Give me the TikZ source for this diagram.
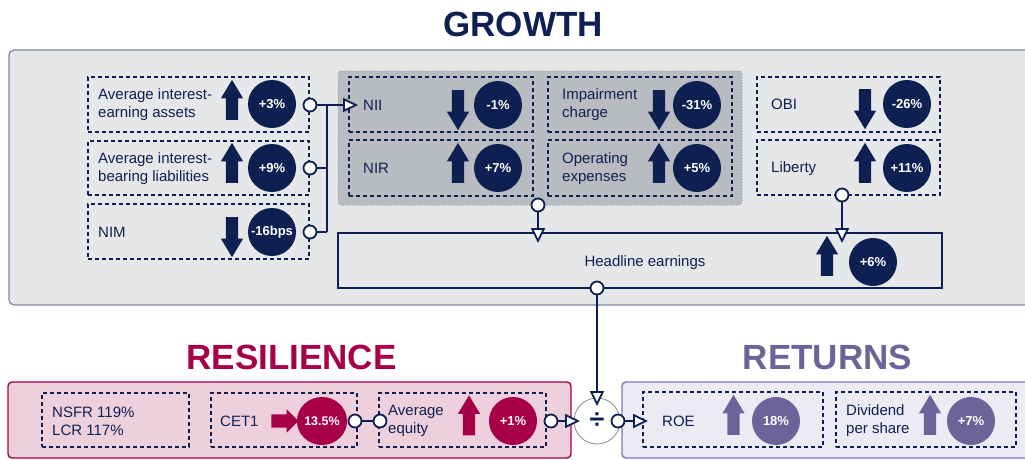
\documentclass[tikz,border=0pt]{standalone}
\usepackage{fontspec}
\setmainfont{Liberation Sans}
\usetikzlibrary{shapes.arrows,shapes.geometric,arrows.meta}
\definecolor{navy}{HTML}{0E2052}
\definecolor{crim}{HTML}{A70048}
\definecolor{purp}{HTML}{6C6499}
\definecolor{gbg}{HTML}{E6E7E9}
\definecolor{gborder}{HTML}{7A86A0}
\definecolor{grpfill}{HTML}{B8BCC1}
\definecolor{grpline}{HTML}{9DA2A8}
\definecolor{resbg}{HTML}{EED0DC}
\definecolor{resline}{HTML}{A8004B}
\definecolor{retbg}{HTML}{ECEBF3}
\definecolor{retline}{HTML}{7D74C8}
\definecolor{divline}{HTML}{8C8C8C}
\begin{document}
\begin{tikzpicture}[x=1pt,y=-1pt,
  dbox/.style={rectangle, draw=navy, dash pattern=on 4pt off 3pt, line width=1.2pt, inner sep=0pt},
  lbl/.style={anchor=west, text=navy, font=\fontsize{15}{18}\selectfont, align=left, inner sep=0pt},
  val/.style={circle, fill=navy, text=white, font=\bfseries\fontsize{13}{15}\selectfont, minimum size=48pt, inner sep=0pt},
  uparr/.style={single arrow, shape border rotate=90, fill=navy, minimum height=40pt, minimum width=22pt, single arrow head extend=5pt, single arrow tip angle=62, inner sep=6pt},
  dnarr/.style={uparr, shape border rotate=270},
  dotc/.style={circle, draw=navy, fill=white, line width=1.8pt, minimum size=13pt, inner sep=0pt},
  conn/.style={draw=navy, line width=1.3pt},
  tri/.style={-{Triangle[length=15pt, width=14pt, line width=1.8pt, fill=white]}},
  title/.style={font=\bfseries\fontsize{35}{40}\selectfont, inner sep=0pt}
]
\useasboundingbox (0,0) rectangle (1025,459);

% ---------------- GROWTH ----------------
\node[title, text=navy] (tgrowth) at (523,24) {GROWTH};
\draw[fill=gbg, draw=gborder, line width=1.2pt, rounded corners=5pt] (9,50) rectangle (1045,305);

% left column
\node[dbox, minimum width=221pt, minimum height=55pt] (b1) at (198.5,104.5) {};
\node[dbox, minimum width=221pt, minimum height=54pt] (b2) at (198.5,168) {};
\node[dbox, minimum width=221pt, minimum height=55pt] (b3) at (198.5,231.5) {};
\node[lbl] (l1) at (98,105) {Average interest-\\earning assets};
\node[lbl] (l2) at (98,168.5) {Average interest-\\bearing liabilities};
\node[lbl] (l3) at (98,232) {NIM};
\node[uparr] (a1) at (232,105) {};
\node[uparr] (a2) at (232,168) {};
\node[dnarr] (a3) at (232,232) {};
\node[val] (v1) at (272,104) {+3\%};
\node[val] (v2) at (272,168) {+9\%};
\node[val] (v3) at (272,232) {-16bps};

% grey group
\node[rectangle, fill=grpfill, draw=grpline, dotted, line width=1pt, rounded corners=3pt, minimum width=404pt, minimum height=134pt, inner sep=0pt] (grp) at (540,138) {};
\node[dbox, minimum width=184pt, minimum height=55pt] (bnii) at (441,104.5) {};
\node[dbox, minimum width=184pt, minimum height=56pt] (bnir) at (441,168) {};
\node[dbox, minimum width=184pt, minimum height=55pt] (bimp) at (640,104.5) {};
\node[dbox, minimum width=184pt, minimum height=56pt] (bope) at (640,168) {};
\node[lbl] (lnii) at (363,105) {NII};
\node[lbl] (lnir) at (363,168.5) {NIR};
\node[lbl] (limp) at (562,105) {Impairment\\charge};
\node[lbl] (lope) at (562,168.5) {Operating\\expenses};
\node[dnarr] (anii) at (458,105) {};
\node[uparr] (anir) at (458,168) {};
\node[dnarr] (aimp) at (659,105) {};
\node[uparr] (aope) at (659,168) {};
\node[val] (vnii) at (498,105) {-1\%};
\node[val] (vnir) at (498,168) {+7\%};
\node[val] (vimp) at (697,105) {-31\%};
\node[val] (vope) at (697,168) {+5\%};

% right column
\node[dbox, minimum width=183pt, minimum height=55pt] (bobi) at (848.5,104.5) {};
\node[dbox, minimum width=183pt, minimum height=55pt] (blib) at (848.5,167.5) {};
\node[lbl] (lobi) at (771,104.5) {OBI};
\node[lbl] (llib) at (771,168.5) {Liberty};
\node[dnarr] (aobi) at (865,104) {};
\node[uparr] (alib) at (865,168) {};
\node[val] (vobi) at (907,104) {-26\%};
\node[val] (vlib) at (907,168) {+11\%};

% headline
\node[rectangle, draw=navy, fill=gbg, line width=1.3pt, minimum width=604pt, minimum height=55pt, inner sep=0pt] (head) at (640,260.5) {};
\node[text=navy, font=\fontsize{15}{18}\selectfont, inner sep=0pt] (lhead) at (645,262.5) {Headline earnings};
\node[uparr] (ahead) at (827,261) {};
\node[val] (vhead) at (873,262) {+6\%};

% connectors (growth)
\coordinate (busT) at (327,105);
\coordinate (busB) at (327,232);
\coordinate (niitip) at (358,105);
\coordinate (headtipA) at (538,243);
\coordinate (headtipB) at (842,243);
\node[dotc] (d1) at (310,105) {};
\node[dotc] (d2) at (310,168) {};
\node[dotc] (d3) at (310,232) {};
\node[dotc] (dgrp) at (538,205) {};
\node[dotc] (dlib) at (842,195) {};
\draw[conn] (busT) -- (busB);
\draw[conn] (d2) -- (d2 -| busT);
\draw[conn] (d3) -- (busB);
\draw[conn, tri] (d1) -- (niitip);
\draw[conn, tri] (dgrp) -- (headtipA);
\draw[conn, tri] (dlib) -- (headtipB);

% ---------------- RESILIENCE ----------------
\node[title, text=crim] (tres) at (291.5,357.5) {RESILIENCE};
\draw[fill=resbg, draw=resline, line width=1.4pt, rounded corners=4pt] (8,382) rectangle (571,458);
\node[dbox, minimum width=147pt, minimum height=54pt] (bnsfr) at (115.5,420) {};
\node[dbox, minimum width=146pt, minimum height=54pt] (bcet) at (284,420) {};
\node[dbox, minimum width=167pt, minimum height=54pt] (beq) at (462.5,420) {};
\node[lbl] (lnsfr) at (52,421) {NSFR 119\%\\LCR 117\%};
\node[lbl] (lcet) at (220,421.5) {CET1};
\node[lbl] (leq) at (388,421) {Average\\equity};
\node[single arrow, fill=crim, minimum height=27pt, minimum width=23pt, single arrow head extend=5pt, single arrow tip angle=90, inner sep=6.5pt] (acet) at (281.5,421) {};
\node[uparr, fill=crim] (aeq) at (469,420.5) {};
\node[ellipse, fill=crim, text=white, font=\bfseries\fontsize{12.5}{15}\selectfont, minimum width=45pt, minimum height=48pt, inner sep=0pt] (vcet) at (322,421) {13.5\%};
\node[val, fill=crim] (veq) at (513,421) {+1\%};

% divide
\node[circle, draw=divline, fill=white, line width=0.8pt, minimum size=46pt, inner sep=0pt, text=navy, font=\bfseries\fontsize{27}{29}\selectfont] (div) at (597,421) {÷};

% ---------------- RETURNS ----------------
\node[title, text=purp] (tret) at (827.5,357.5) {RETURNS};
\draw[fill=retbg, draw=retline, line width=1.4pt, rounded corners=4pt] (622,382) rectangle (1045,458);
\node[dbox, minimum width=180pt, minimum height=55pt] (broe) at (733,419.5) {};
\node[dbox, minimum width=180pt, minimum height=55pt] (bdiv) at (926,419.5) {};
\node[lbl] (lroe) at (662,421.5) {ROE};
\node[lbl] (ldps) at (846,421) {Dividend\\per share};
\node[uparr, fill=purp] (aroe) at (733.5,420) {};
\node[uparr, fill=purp] (adps) at (930,420) {};
\node[val, fill=purp] (vroe) at (776,421) {18\%};
\node[val, fill=purp] (vdps) at (971,421) {+7\%};

% connectors (bottom)
\coordinate (divtipT) at (597,406);
\coordinate (divtipL) at (580,421);
\coordinate (roetip) at (648,421);
\node[dotc] (dhead) at (597,288) {};
\node[dotc] (dcet) at (355,421) {};
\node[dotc] (deqL) at (380,421) {};
\node[dotc] (deqR) at (551,421) {};
\node[dotc] (ddiv) at (618,421) {};
\draw[conn] (dcet) -- (deqL);
\draw[conn, tri] (dhead) -- (divtipT);
\draw[conn, tri] (deqR) -- (divtipL);
\draw[conn, tri] (ddiv) -- (roetip);
\end{tikzpicture}
\end{document}
